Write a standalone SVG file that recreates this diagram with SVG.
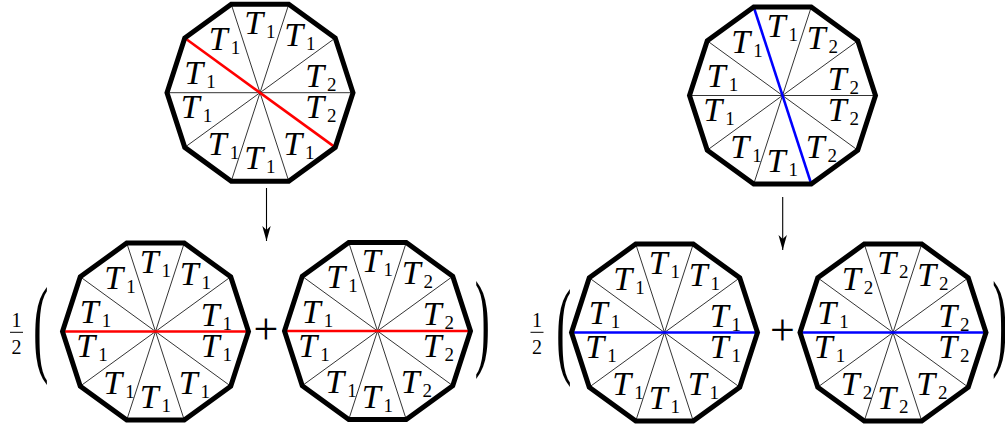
<svg xmlns="http://www.w3.org/2000/svg" xmlns:xlink="http://www.w3.org/1999/xlink" width="1005" height="427" viewBox="0 0 1005 427">
<style>
.o{fill:none;stroke:#000;stroke-width:5;stroke-linejoin:miter}
.sp{fill:none;stroke:#000;stroke-width:0.8}
.r{stroke:#f00;stroke-width:2.6}
.b{stroke:#00f;stroke-width:2.6}
.t{font-family:"Liberation Serif",serif;font-style:italic;font-size:34px;fill:#000}
.s{font-style:normal;font-size:19px}
.m{font-family:"Liberation Serif",serif;fill:#000}
.par{font-family:"Liberation Serif",serif;font-size:108px;fill:#000}
.ar{stroke:#000;stroke-width:1.1;fill:none}
.bar{stroke:#000;stroke-width:1}
</style>
<defs>
<path id="spokes" class="sp" d="M93,0L-93,0M75.24,-54.66L-75.24,54.66M28.74,-88.45L-28.74,88.45M-28.74,-88.45L28.74,88.45M-75.24,-54.66L75.24,54.66"/>
<polygon id="outline" class="o" points="93,0 75.24,-54.66 28.74,-88.45 -28.74,-88.45 -75.24,-54.66 -93,0 -75.24,54.66 -28.74,88.45 28.74,88.45 75.24,54.66"/>
<marker id="ah" markerUnits="userSpaceOnUse" markerWidth="18" markerHeight="12" viewBox="-16 -6 18 12" refX="0" refY="0" orient="auto">
<path d="M0,0L-15,-4.2L-11,0L-15,4.2Z" fill="#000"/>
</marker>
</defs>

<g id="connectors">
<line class="ar" x1="266.5" y1="188" x2="266.5" y2="241" marker-end="url(#ah)"/>
<line class="ar" x1="782.7" y1="197" x2="782.7" y2="250" marker-end="url(#ah)"/>
</g>

<g id="nodeA" transform="translate(260,92.7)">
<use xlink:href="#spokes" href="#spokes"/>
<line class="r" x1="-75.24" y1="-54.66" x2="75.24" y2="54.66"/>
<use xlink:href="#outline" href="#outline"/>
<text class="t" x="-15.8" y="-58.9">T<tspan class="s" dx="3" dy="4">1</tspan></text>
<text class="t" x="24.2" y="-46.9">T<tspan class="s" dx="3" dy="4">1</tspan></text>
<text class="t" x="-51.3" y="-42.9">T<tspan class="s" dx="3" dy="4">1</tspan></text>
<text class="t" x="-75.8" y="-8.4">T<tspan class="s" dx="3" dy="4">1</tspan></text>
<text class="t" x="45.2" y="-5.9">T<tspan class="s" dx="3" dy="4">2</tspan></text>
<text class="t" x="-79.3" y="25.6">T<tspan class="s" dx="3" dy="4">1</tspan></text>
<text class="t" x="45.2" y="25.6">T<tspan class="s" dx="3" dy="4">2</tspan></text>
<text class="t" x="-52.3" y="62.1">T<tspan class="s" dx="3" dy="4">1</tspan></text>
<text class="t" x="-15.8" y="76.6">T<tspan class="s" dx="3" dy="4">1</tspan></text>
<text class="t" x="23.2" y="62.1">T<tspan class="s" dx="3" dy="4">1</tspan></text>
</g>

<g id="nodeB" transform="translate(782.5,95.5)">
<use xlink:href="#spokes" href="#spokes"/>
<line class="b" x1="-28.74" y1="-88.45" x2="28.74" y2="88.45"/>
<use xlink:href="#outline" href="#outline"/>
<text class="t" x="-15.8" y="-58.9">T<tspan class="s" dx="3" dy="4">1</tspan></text>
<text class="t" x="24.2" y="-46.9">T<tspan class="s" dx="3" dy="4">2</tspan></text>
<text class="t" x="-51.3" y="-42.9">T<tspan class="s" dx="3" dy="4">1</tspan></text>
<text class="t" x="-75.8" y="-8.4">T<tspan class="s" dx="3" dy="4">1</tspan></text>
<text class="t" x="45.2" y="-5.9">T<tspan class="s" dx="3" dy="4">2</tspan></text>
<text class="t" x="-79.3" y="25.6">T<tspan class="s" dx="3" dy="4">1</tspan></text>
<text class="t" x="45.2" y="25.6">T<tspan class="s" dx="3" dy="4">2</tspan></text>
<text class="t" x="-52.3" y="62.1">T<tspan class="s" dx="3" dy="4">1</tspan></text>
<text class="t" x="-15.8" y="76.6">T<tspan class="s" dx="3" dy="4">1</tspan></text>
<text class="t" x="23.2" y="62.1">T<tspan class="s" dx="3" dy="4">2</tspan></text>
</g>

<g id="nodeC" transform="translate(155.5,331.5)">
<use xlink:href="#spokes" href="#spokes"/>
<line class="r" x1="-93" y1="0" x2="93" y2="0"/>
<use xlink:href="#outline" href="#outline"/>
<text class="t" x="-15.8" y="-58.9">T<tspan class="s" dx="3" dy="4">1</tspan></text>
<text class="t" x="24.2" y="-46.9">T<tspan class="s" dx="3" dy="4">1</tspan></text>
<text class="t" x="-51.3" y="-42.9">T<tspan class="s" dx="3" dy="4">1</tspan></text>
<text class="t" x="-75.8" y="-8.4">T<tspan class="s" dx="3" dy="4">1</tspan></text>
<text class="t" x="45.2" y="-5.9">T<tspan class="s" dx="3" dy="4">1</tspan></text>
<text class="t" x="-79.3" y="25.6">T<tspan class="s" dx="3" dy="4">1</tspan></text>
<text class="t" x="45.2" y="25.6">T<tspan class="s" dx="3" dy="4">1</tspan></text>
<text class="t" x="-52.3" y="62.1">T<tspan class="s" dx="3" dy="4">1</tspan></text>
<text class="t" x="-15.8" y="76.6">T<tspan class="s" dx="3" dy="4">1</tspan></text>
<text class="t" x="23.2" y="62.1">T<tspan class="s" dx="3" dy="4">1</tspan></text>
</g>

<g id="nodeD" transform="translate(377.5,331)">
<use xlink:href="#spokes" href="#spokes"/>
<line class="r" x1="-93" y1="0" x2="93" y2="0"/>
<use xlink:href="#outline" href="#outline"/>
<text class="t" x="-15.8" y="-58.9">T<tspan class="s" dx="3" dy="4">1</tspan></text>
<text class="t" x="24.2" y="-46.9">T<tspan class="s" dx="3" dy="4">2</tspan></text>
<text class="t" x="-51.3" y="-42.9">T<tspan class="s" dx="3" dy="4">1</tspan></text>
<text class="t" x="-75.8" y="-8.4">T<tspan class="s" dx="3" dy="4">1</tspan></text>
<text class="t" x="45.2" y="-5.9">T<tspan class="s" dx="3" dy="4">2</tspan></text>
<text class="t" x="-79.3" y="25.6">T<tspan class="s" dx="3" dy="4">1</tspan></text>
<text class="t" x="45.2" y="25.6">T<tspan class="s" dx="3" dy="4">2</tspan></text>
<text class="t" x="-52.3" y="62.1">T<tspan class="s" dx="3" dy="4">1</tspan></text>
<text class="t" x="-15.8" y="76.6">T<tspan class="s" dx="3" dy="4">1</tspan></text>
<text class="t" x="23.2" y="62.1">T<tspan class="s" dx="3" dy="4">2</tspan></text>
</g>

<g id="nodeE" transform="translate(664.5,332.5)">
<use xlink:href="#spokes" href="#spokes"/>
<line class="b" x1="-93" y1="0" x2="93" y2="0"/>
<use xlink:href="#outline" href="#outline"/>
<text class="t" x="-15.8" y="-58.9">T<tspan class="s" dx="3" dy="4">1</tspan></text>
<text class="t" x="24.2" y="-46.9">T<tspan class="s" dx="3" dy="4">1</tspan></text>
<text class="t" x="-51.3" y="-42.9">T<tspan class="s" dx="3" dy="4">1</tspan></text>
<text class="t" x="-75.8" y="-8.4">T<tspan class="s" dx="3" dy="4">1</tspan></text>
<text class="t" x="45.2" y="-5.9">T<tspan class="s" dx="3" dy="4">1</tspan></text>
<text class="t" x="-79.3" y="25.6">T<tspan class="s" dx="3" dy="4">1</tspan></text>
<text class="t" x="45.2" y="25.6">T<tspan class="s" dx="3" dy="4">1</tspan></text>
<text class="t" x="-52.3" y="62.1">T<tspan class="s" dx="3" dy="4">1</tspan></text>
<text class="t" x="-15.8" y="76.6">T<tspan class="s" dx="3" dy="4">1</tspan></text>
<text class="t" x="23.2" y="62.1">T<tspan class="s" dx="3" dy="4">1</tspan></text>
</g>

<g id="nodeF" transform="translate(893,332.5)">
<use xlink:href="#spokes" href="#spokes"/>
<line class="b" x1="-93" y1="0" x2="93" y2="0"/>
<use xlink:href="#outline" href="#outline"/>
<text class="t" x="-15.8" y="-58.9">T<tspan class="s" dx="3" dy="4">2</tspan></text>
<text class="t" x="24.2" y="-46.9">T<tspan class="s" dx="3" dy="4">2</tspan></text>
<text class="t" x="-51.3" y="-42.9">T<tspan class="s" dx="3" dy="4">2</tspan></text>
<text class="t" x="-75.8" y="-8.4">T<tspan class="s" dx="3" dy="4">1</tspan></text>
<text class="t" x="45.2" y="-5.9">T<tspan class="s" dx="3" dy="4">2</tspan></text>
<text class="t" x="-79.3" y="25.6">T<tspan class="s" dx="3" dy="4">1</tspan></text>
<text class="t" x="45.2" y="25.6">T<tspan class="s" dx="3" dy="4">2</tspan></text>
<text class="t" x="-52.3" y="62.1">T<tspan class="s" dx="3" dy="4">2</tspan></text>
<text class="t" x="-15.8" y="76.6">T<tspan class="s" dx="3" dy="4">2</tspan></text>
<text class="t" x="23.2" y="62.1">T<tspan class="s" dx="3" dy="4">2</tspan></text>
</g>

<g id="formulaLeft">
<text class="m" x="16.5" y="327" font-size="20" text-anchor="middle">1</text>
<line class="bar" x1="10" y1="332.3" x2="23" y2="332.3"/>
<text class="m" x="16.5" y="354" font-size="20" text-anchor="middle">2</text>
<text class="par" transform="translate(33.3,362) scale(0.42,1)">(</text>
<text class="m" x="266" y="343.8" font-size="44" text-anchor="middle">+</text>
<text class="par" transform="translate(474.7,356) scale(0.42,1)">)</text>
</g>

<g id="formulaRight">
<text class="m" x="537" y="327" font-size="20" text-anchor="middle">1</text>
<line class="bar" x1="530.5" y1="332.3" x2="543.5" y2="332.3"/>
<text class="m" x="537" y="354" font-size="20" text-anchor="middle">2</text>
<text class="par" transform="translate(556.3,364) scale(0.42,1)">(</text>
<text class="m" x="782.5" y="345" font-size="44" text-anchor="middle">+</text>
<text class="par" transform="translate(992.2,356) scale(0.42,1)">)</text>
</g>
</svg>
